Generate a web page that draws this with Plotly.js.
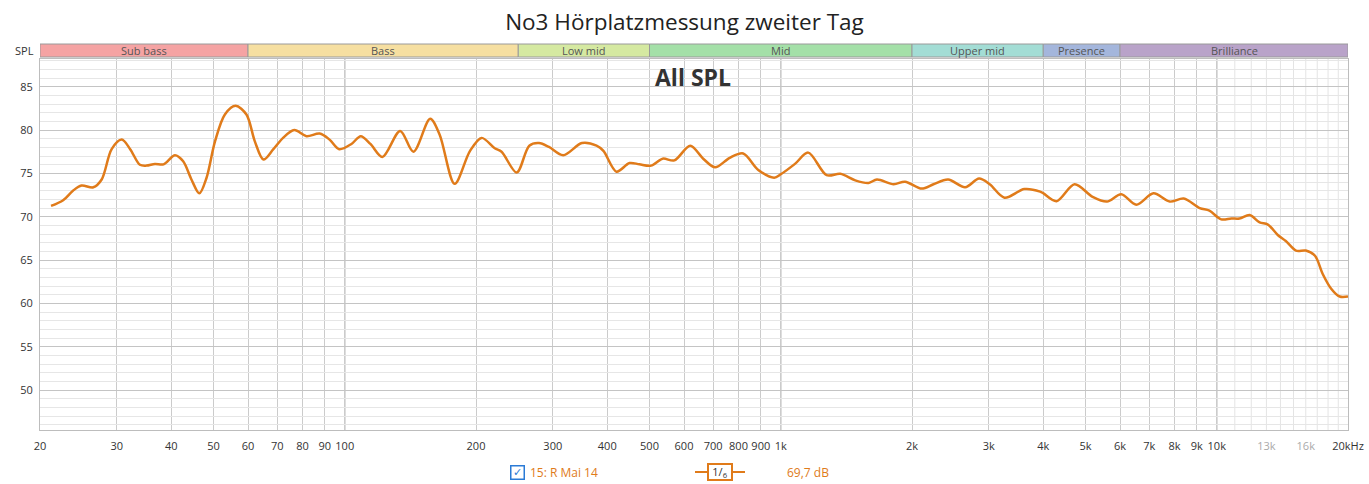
<!DOCTYPE html>
<html>
<head>
<meta charset="utf-8">
<script src="https://cdn.plot.ly/plotly-3.0.1.min.js"></script>
<style>
  html, body { margin: 0; padding: 0; background: #fff; }
  #chart { width: 1369px; height: 484px; }
</style>
</head>
<body>
<div id="chart"></div>
<script>
var freq = [21.2, 22.6, 23.8, 24.9, 26.5, 27.7, 29.2, 30.8, 32.2, 33.9,
    35.1, 36.7, 38.4, 40.8, 42.6, 44.5, 46.4, 48.2, 50.4, 53.1,
    56.2, 59.5, 62.2, 65.1, 68.6, 72.2, 76.6, 81.7, 87.6, 92.3,
    97.1, 103.6, 108.8, 114.5, 122, 134, 143.7, 157, 165, 178.7,
    193.8, 206, 220.8, 228.9, 248, 265, 279, 294, 317, 350,
    378, 392, 420, 450, 474, 504, 536, 570, 620, 664,
    707, 764, 820, 888, 966, 1000, 1078, 1156, 1274, 1370,
    1482, 1590, 1662, 1815, 1928, 2106, 2240, 2420, 2648, 2850,
    3015, 3260, 3620, 3936, 4004, 4290, 4720, 5190, 5600, 6040,
    6540, 7160, 7800, 8400, 9140, 9620, 10240, 10800, 11280, 11900,
    12540, 13100, 13800, 14400, 15200, 16000, 16800, 17500, 18300, 19140,
    20000];
var spl = [71.25, 71.9, 73.0, 73.6, 73.4, 74.3, 77.8, 78.9, 77.8, 76.0,
    75.9, 76.1, 76.05, 77.1, 76.4, 74.3, 72.7, 74.5, 78.7, 81.8,
    82.8, 81.8, 78.7, 76.6, 77.8, 79.1, 80.0, 79.3, 79.6, 78.9,
    77.8, 78.4, 79.3, 78.4, 76.9, 79.9, 77.5, 81.3, 79.5, 73.8,
    77.6, 79.1, 77.9, 77.5, 75.1, 78.2, 78.5, 78.05, 77.1, 78.5,
    78.2, 77.6, 75.2, 76.2, 76.05, 75.9, 76.7, 76.5, 78.2, 76.7,
    75.7, 76.8, 77.3, 75.4, 74.5, 74.9, 76.1, 77.4, 74.8, 74.95,
    74.2, 73.9, 74.3, 73.75, 74.05, 73.25, 73.75, 74.3, 73.4, 74.4,
    73.75, 72.2, 73.2, 72.9, 72.7, 71.8, 73.75, 72.3, 71.75, 72.6,
    71.4, 72.7, 71.75, 72.1, 71.0, 70.7, 69.7, 69.8, 69.8, 70.2,
    69.35, 69.1, 67.9, 67.2, 66.1, 66.1, 65.5, 63.4, 61.7, 60.8,
    60.8];

// x tick labels
var tickVals = [20, 30, 40, 50, 60, 70, 80, 90, 100, 200, 300, 400, 500, 600, 700, 800, 900,
    1000, 2000, 3000, 4000, 5000, 6000, 7000, 8000, 9000, 10000, 13000, 16000, 20000];
var tickText = ['20', '30', '40', '50', '60', '70', '80', '90', '100', '200', '300', '400', '500',
    '600', '700', '800', '900', '1k', '2k', '3k', '4k', '5k', '6k', '7k', '8k', '9k', '10k',
    '<span style="color:#aaaaaa">13k</span>', '<span style="color:#aaaaaa">16k</span>', '20kHz'];
var gridVals = [20, 30, 40, 50, 60, 70, 80, 90, 100, 200, 300, 400, 500, 600, 700, 800, 900,
    1000, 2000, 3000, 4000, 5000, 6000, 7000, 8000, 9000, 10000];
var lightGrid = [11000, 12000, 13000, 14000, 15000, 16000, 17000, 18000, 19000];
var decades = [100, 1000, 10000];

// frequency bands at the top
var bandNames = ['Sub bass', 'Bass', 'Low mid', 'Mid', 'Upper mid', 'Presence', 'Brilliance'];
var bandEdges = [20, 60, 250, 500, 2000, 4000, 6000, 20000];
var bandColors = ['#f5a3a3', '#f6dfa1', '#d5e9a1', '#a4e0a8', '#a3ddd5', '#a4b6dc', '#b9a3c9'];

var orange = '#e07b1a';
var W = 1369, H = 484, L = 40, R = 21, T = 59, B = 54;
var pw = W - L - R, ph = H - T - B;
function px(x) { return (x - L) / pw; }
function py(y) { return (H - B - y) / ph; }

var shapes = [];
var annotations = [];

for (var i = 0; i < bandNames.length; i++) {
    shapes.push({
        type: 'rect', xref: 'x', yref: 'paper',
        x0: bandEdges[i], x1: bandEdges[i + 1], y0: py(57), y1: py(44),
        fillcolor: bandColors[i], line: { color: '#9a9a9a', width: 1 }
    });
    annotations.push({
        xref: 'x', yref: 'paper', yanchor: 'middle',
        x: Math.log10(Math.sqrt(bandEdges[i] * bandEdges[i + 1])), y: py(50.5),
        text: bandNames[i], showarrow: false,
        font: { family: 'Open Sans', size: 11, color: '#555' }
    });
}
lightGrid.forEach(function (f) {
    shapes.push({
        type: 'line', xref: 'x', yref: 'paper', x0: f, x1: f, y0: 0, y1: 1,
        layer: 'below', line: { color: '#e4e4e4', width: 1 }
    });
});
decades.forEach(function (f) {
    shapes.push({
        type: 'line', xref: 'x', yref: 'paper', x0: f, x1: f, y0: 0, y1: 1,
        layer: 'below', line: { color: '#7a7a7a', width: 1 }
    });
});

annotations.push({
    xref: 'paper', yref: 'paper', x: 0, y: py(50.5), xanchor: 'right', yanchor: 'middle', xshift: -4,
    text: 'SPL', showarrow: false, font: { family: 'Open Sans', size: 11, color: '#333' }
});
annotations.push({
    xref: 'paper', yref: 'paper', x: px(693), y: py(77), yanchor: 'middle',
    text: '<b>All SPL</b>', showarrow: false,
    font: { family: 'Open Sans', size: 23, color: '#333' }
});

// legend row under the chart
annotations.push({
    xref: 'paper', yref: 'paper', x: px(517.5), y: py(472), yanchor: 'middle',
    text: '✓', showarrow: false, bordercolor: '#2b7bd6', borderwidth: 1.5, borderpad: 0,
    width: 12, height: 12,
    font: { family: 'DejaVu Sans', size: 11, color: '#2b7bd6' }
});
annotations.push({
    xref: 'paper', yref: 'paper', x: px(528), y: py(472), xanchor: 'left', yanchor: 'middle',
    text: '15: R Mai 14', showarrow: false,
    font: { family: 'Open Sans', size: 12, color: orange }
});
shapes.push({
    type: 'line', xref: 'paper', yref: 'paper', x0: px(695), x1: px(745), y0: py(472), y1: py(472),
    line: { color: orange, width: 2 }
});
annotations.push({
    xref: 'paper', yref: 'paper', x: px(720), y: py(472), yanchor: 'middle',
    text: '1/<sub>6</sub>', showarrow: false, bgcolor: '#fff', bordercolor: orange, borderwidth: 2,
    borderpad: 0, width: 22, height: 14,
    font: { family: 'Open Sans', size: 11, color: '#333' }
});
annotations.push({
    xref: 'paper', yref: 'paper', x: px(785), y: py(472), xanchor: 'left', yanchor: 'middle',
    text: '69,7 dB', showarrow: false,
    font: { family: 'Open Sans', size: 12, color: orange }
});

var data = [{
    x: freq,
    y: spl,
    mode: 'lines',
    type: 'scatter',
    line: { color: orange, width: 2.5, shape: 'spline', smoothing: 0.9 },
    hoverinfo: 'skip'
}];

var layout = {
    width: W, height: H,
    margin: { l: L, r: R, t: T, b: B },
    paper_bgcolor: '#fff', plot_bgcolor: '#fff',
    showlegend: false,
    font: { family: 'Open Sans', size: 11, color: '#333' },
    title: {
        text: 'No3 Hörplatzmessung zweiter Tag',
        x: 0.5, xref: 'container', y: 1 - 22 / H, yref: 'container', yanchor: 'middle',
        font: { family: 'Open Sans', size: 22.5, color: '#222' }
    },
    xaxis: {
        type: 'log',
        range: [Math.log10(20), Math.log10(20000)],
        tickmode: 'array', tickvals: tickVals, ticktext: tickText,
        showgrid: false, zeroline: false,
        minor: { tickmode: 'array', tickvals: gridVals, showgrid: true, gridcolor: '#cbcbcb', ticks: '' },
        showline: true, linecolor: '#bdbdbd', mirror: true,
        ticks: '', ticklabelstandoff: 6,
        tickfont: { family: 'Open Sans', size: 11, color: '#333' }
    },
    yaxis: {
        range: [45.4, 88.2],
        tickmode: 'array', tickvals: [50, 55, 60, 65, 70, 75, 80, 85],
        showgrid: true, gridcolor: '#c4c4c4', zeroline: false,
        minor: { dtick: 1, tick0: 0, showgrid: true, gridcolor: '#e6e6e6', ticks: '' },
        showline: true, linecolor: '#bdbdbd', mirror: true,
        ticks: '', ticklabelstandoff: 4,
        tickfont: { family: 'Open Sans', size: 11, color: '#333' }
    },
    shapes: shapes,
    annotations: annotations
};

Plotly.newPlot('chart', data, layout, { displayModeBar: false, staticPlot: true });
</script>
</body>
</html>
